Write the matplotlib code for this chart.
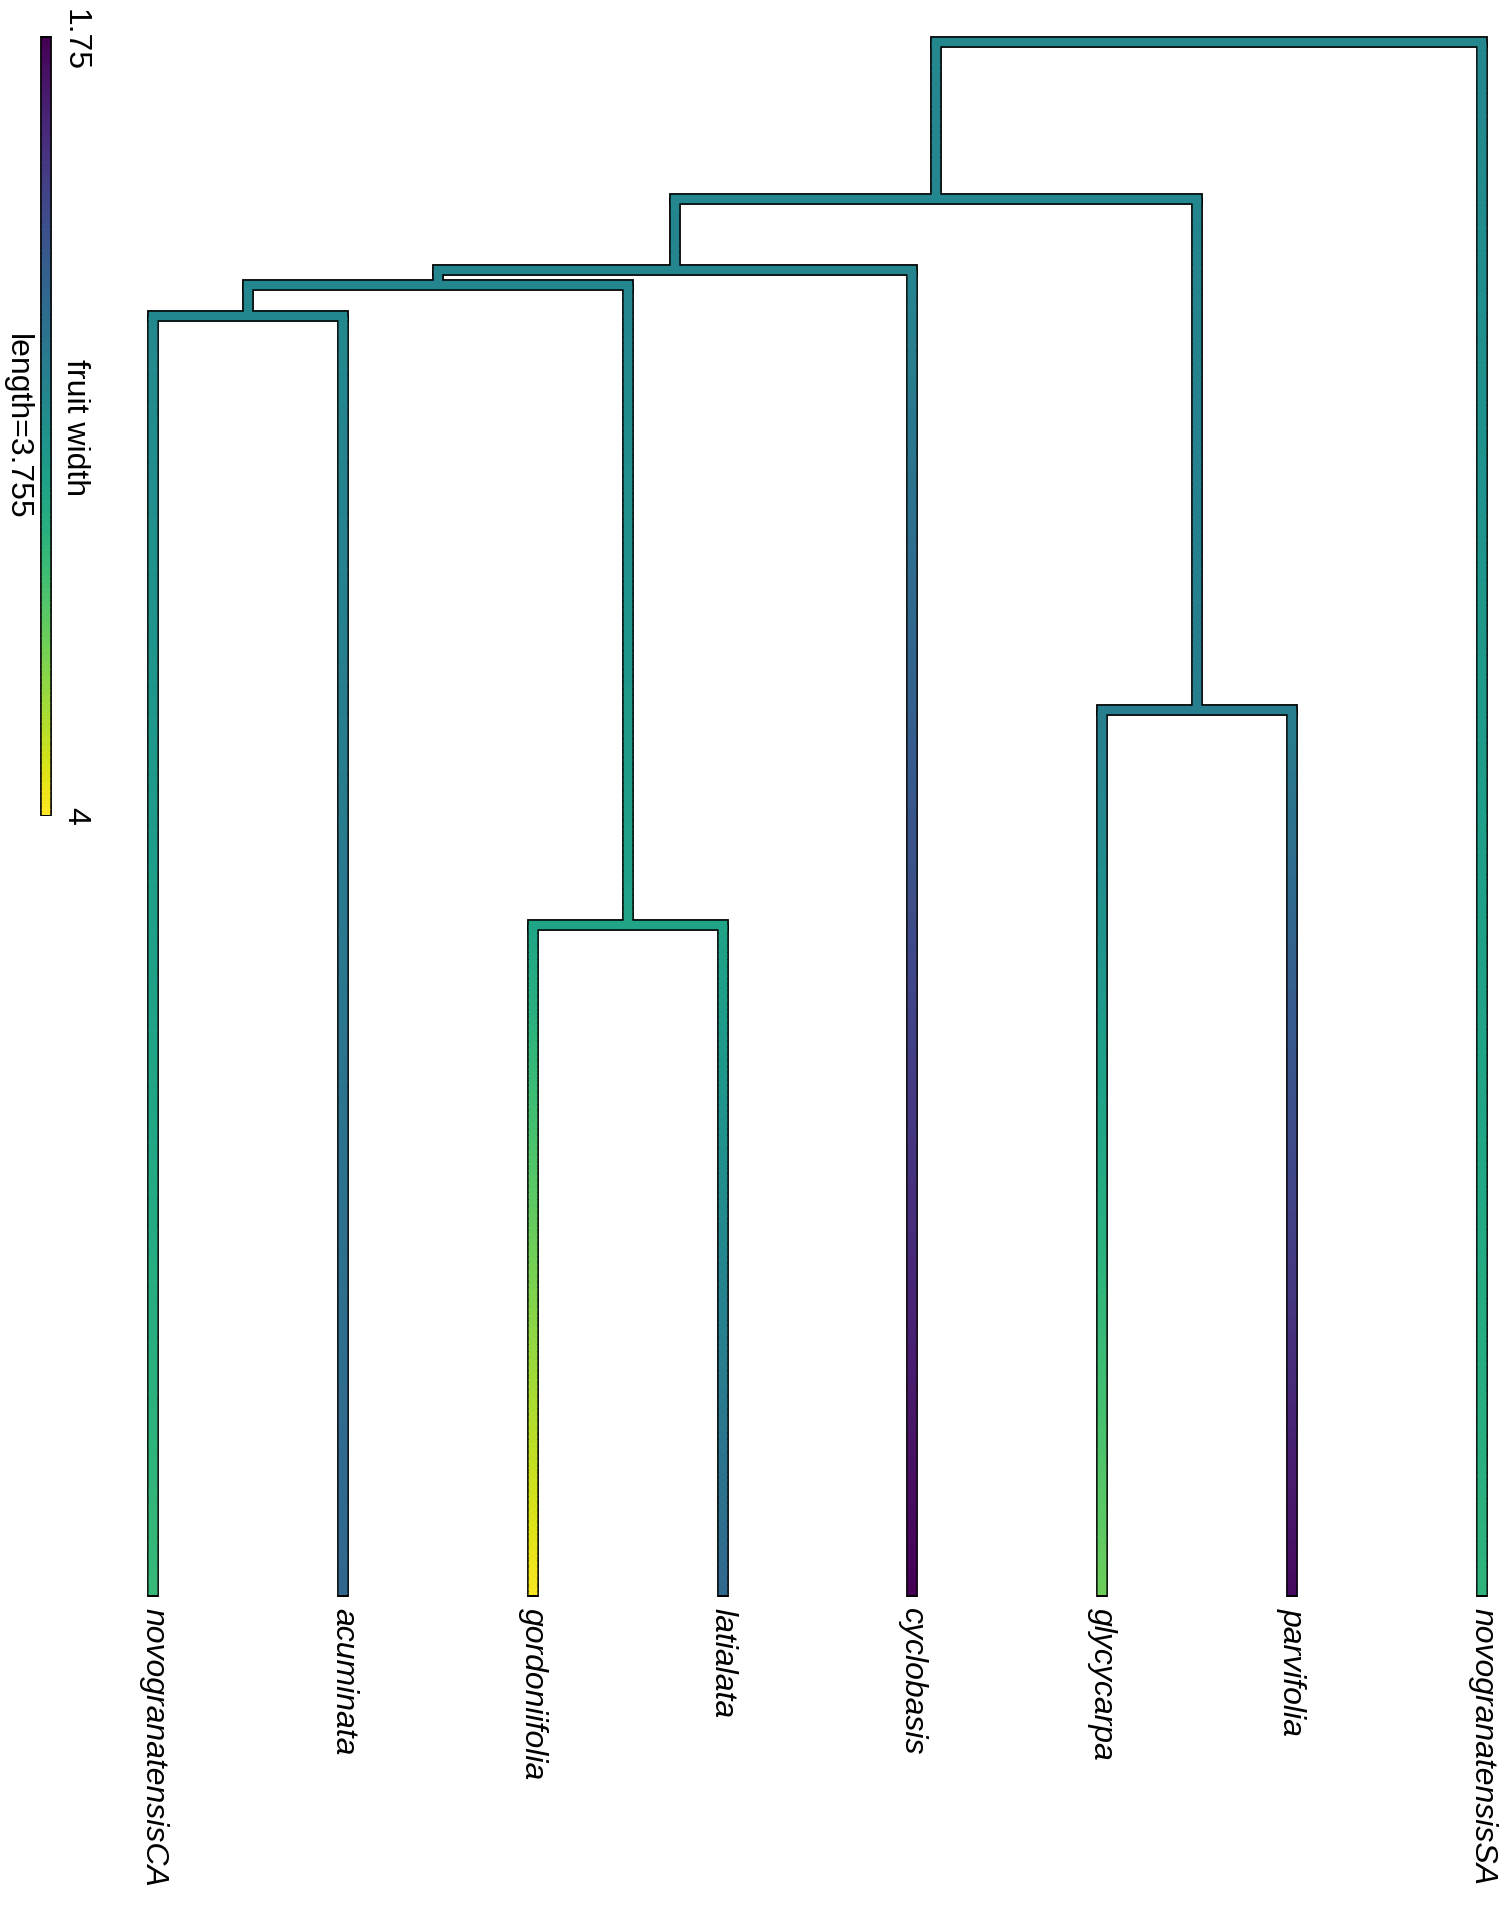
import matplotlib
matplotlib.use('Agg')
import matplotlib.pyplot as plt
from matplotlib.collections import LineCollection
import numpy as np

plt.rcParams['font.family'] = ['Liberation Sans', 'DejaVu Sans']

# tips, left to right
tip_labels = ['novogranatensisCA', 'acuminata', 'gordoniifolia', 'latialata',
              'cyclobasis', 'glycycarpa', 'parvifolia', 'novogranatensisSA']
tip_values = [3.26, 2.49, 3.98, 2.50, 1.75, 3.50, 1.80, 3.21]

# internal nodes: root, A, B, C, (CA,acum), (gord,lat), (glyc,parv)
node_values = [2.79, 2.78, 2.77, 2.78, 2.80, 3.06, 2.70]
node_depths = [0.0, 0.76, 1.10, 1.175, 1.325, 4.27, 3.23]
tree_height = 7.51

# parent of every node (tips 0-7, then internal 8-14)
parents = [12, 12, 13, 13, 10, 14, 14, 8, -1, 8, 9, 10, 11, 11, 9]

legend_min, legend_max = 1.75, 4.0
legend_length = 3.755
trait_name = 'fruit width'

n_tips = len(tip_labels)
depth = [tree_height] * n_tips + node_depths
value = tip_values + node_values
n_nodes = len(depth)

# horizontal position of each node = mean of its children
pos = [float(i + 1) for i in range(n_tips)] + [None] * len(node_depths)
children = {i: [] for i in range(n_nodes)}
for c, p in enumerate(parents):
    if p >= 0:
        children[p].append(c)
def get_pos(i):
    if pos[i] is None:
        pos[i] = np.mean([get_pos(c) for c in children[i]])
    return pos[i]
for i in range(n_nodes):
    get_pos(i)

cmap = plt.get_cmap('viridis')
norm = plt.Normalize(legend_min, legend_max)

fig = plt.figure(figsize=(15.01, 19.08), dpi=100)
ax = fig.add_axes([0, 0, 1, 1])
ax.axis('off')
ax.set_xlim(0.194, 8.100)
ax.set_ylim(9.018, -0.208)

lw_col = 6.1
lw_blk = 8.5

# vertical branches with colour gradient
segs, cols, blk_v = [], [], []
for c, p in enumerate(parents):
    if p < 0:
        continue
    d0, d1 = depth[p], depth[c]
    v0, v1 = value[p], value[c]
    n = max(int((d1 - d0) * 120), 2)
    ts = np.linspace(0, 1, n + 1)
    for k in range(n):
        a, b = ts[k], ts[k + 1]
        segs.append([(pos[c], d0 + (d1 - d0) * a), (pos[c], d0 + (d1 - d0) * min(b + 0.002, 1))])
        cols.append(cmap(norm(v0 + (v1 - v0) * (a + b) / 2)))
    ext = 0.008 if c < n_tips else 0
    blk_v.append([(pos[c], d0), (pos[c], d1 + ext)])

# horizontal connectors, parent colour
hsegs, hcols = [], []
for p in range(n_nodes):
    if children[p]:
        xs = [pos[c] for c in children[p]]
        hsegs.append([(min(xs), depth[p]), (max(xs), depth[p])])
        hcols.append(cmap(norm(value[p])))

ax.add_collection(LineCollection(blk_v, colors='black', linewidths=lw_blk, capstyle='butt'))
ax.add_collection(LineCollection(hsegs, colors='black', linewidths=lw_blk, capstyle='projecting'))
ax.add_collection(LineCollection(hsegs, colors=hcols, linewidths=lw_col, capstyle='projecting'))
ax.add_collection(LineCollection(segs, colors=cols, linewidths=lw_col, capstyle='butt'))

# tip labels
for i, lab in enumerate(tip_labels):
    ax.annotate(lab, xy=(pos[i], tree_height), xytext=(0, -8.5), textcoords='offset points',
                rotation=-90, ha='center', va='top', fontsize=23, style='italic')

# colour legend
lx = 0.436
l0 = -0.02
ld = np.linspace(l0, l0 + legend_length, 301)
lsegs = [[(lx, ld[k]), (lx, ld[k + 1] + 0.002)] for k in range(300)]
lvals = np.linspace(legend_min, legend_max, 300)
ax.plot([lx, lx], [l0 - 0.007, l0 + legend_length + 0.007], color='black', lw=lw_blk, solid_capstyle='butt')
ax.add_collection(LineCollection(lsegs, colors=cmap(norm(lvals)), linewidths=lw_col, capstyle='butt'))

ax.annotate('1.75', xy=(lx, l0), xytext=(21, -1), textcoords='offset points',
            rotation=-90, ha='center', va='center', fontsize=23)
ax.annotate('4', xy=(lx, l0 + legend_length), xytext=(21, 0), textcoords='offset points',
            rotation=-90, ha='center', va='center', fontsize=23)
ax.annotate(trait_name, xy=(lx, l0 + legend_length / 2), xytext=(21, 0), textcoords='offset points',
            rotation=-90, ha='center', va='center', fontsize=23)
ax.annotate('length=%.3f' % legend_length, xy=(lx, l0 + legend_length / 2), xytext=(-21, 0),
            textcoords='offset points', rotation=-90, ha='center', va='center', fontsize=23)

fig.savefig('out.png', dpi=100)
